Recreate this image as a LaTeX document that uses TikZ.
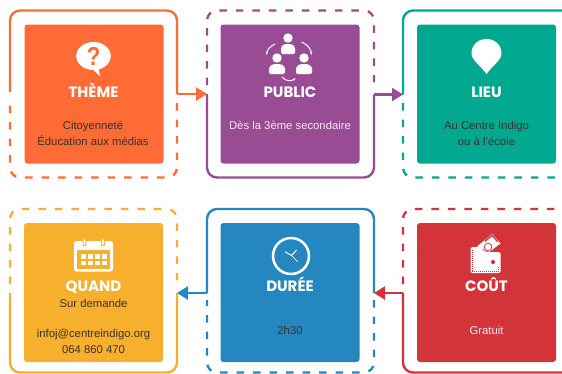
\documentclass[tikz,border=0pt]{standalone}
\usepackage{fontspec}
\setmainfont{Liberation Sans}
\newfontfamily\titlefont{Poppins}
\usetikzlibrary{arrows.meta}
\definecolor{cora}{HTML}{FF6B35}
\definecolor{cpur}{HTML}{984C94}
\definecolor{ctea}{HTML}{00A88F}
\definecolor{cyel}{HTML}{F6B02D}
\definecolor{cblu}{HTML}{2487BF}
\definecolor{cred}{HTML}{D23439}
\definecolor{dtxt}{HTML}{3B302C}
\definecolor{ltxt}{HTML}{F6E8EE}
\tikzset{
 panel/.style={minimum width=139pt,minimum height=139pt,inner sep=0pt,rounded corners=3pt,fill=#1},
 sol/.style={draw=#1,line width=2.4pt,rounded corners=10pt},
 dsh/.style={draw=#1,line width=2.3pt,rounded corners=10pt,dash pattern=on 7.5pt off 9pt},
 conn/.style={draw=#1,line width=2.4pt,-{Triangle[length=11pt,width=13pt]}},
 ttl/.style={text=white,font=\titlefont\fontsize{15}{15}\selectfont\bfseries,inner sep=0pt,text height=10.6pt,text depth=0pt},
 body/.style={align=center,inner sep=0pt,font=\fontsize{11.3}{15.4}\selectfont},
 ico/.style={fill=white,draw=none},
 thinarc/.style={draw=white,line width=1pt},
}
\begin{document}
\begin{tikzpicture}[x=1pt,y=-1pt]
\useasboundingbox[fill=white] (0,0) rectangle (562,373);
% panels
\node[panel=cora] (theme) at (94,94) {};
\node[panel=cpur] (public) at (290,94) {};
\node[panel=ctea] (lieu) at (486.5,94) {};
\node[panel=cyel] (quand) at (93.5,292.5) {};
\node[panel=cblu] (duree) at (290,292.5) {};
\node[panel=cred] (cout) at (486.5,292.5) {};
% frame anchor points
\coordinate (a1) at (177,94); \coordinate (a2) at (207,94);
\coordinate (b1) at (374,94.5); \coordinate (b2) at (403,94.5);
\coordinate (c1) at (207,293); \coordinate (c2) at (177,293);
\coordinate (d1) at (403,293); \coordinate (d2) at (374,293);
% frame theme
\draw[sol=cora] (10,92) -- (10,10.5) -- (177,10.5) -- (a1);
\draw[dsh=cora] (177,103) -- (177,177.5) -- (10,177.5) -- (10,101);
\draw[conn=cora] (a1) -- (a2);
% frame public
\draw[dsh=cpur] (207,85) -- (207,10.5) -- (374,10.5) -- (374,88);
\draw[sol=cpur] (a2) -- (207,177.5) -- (374,177.5) -- (b1);
\draw[conn=cpur] (b1) -- (b2);
% frame lieu
\draw[sol=ctea] (b2) -- (403,10.5) -- (575,10.5);
\draw[dsh=ctea] (403,103) -- (403,177.5) -- (575,177.5);
% frame quand
\draw[dsh=cyel] (10,284) -- (10,209) -- (177,209) -- (177,284);
\draw[sol=cyel] (10,293) -- (10,372.5) -- (177,372.5) -- (c2);
\draw[conn=cblu] (c1) -- (c2);
% frame duree
\draw[sol=cblu] (c1) -- (207,209) -- (374,209) -- (d2);
\draw[dsh=cblu] (374,300) -- (374,372.5) -- (207,372.5) -- (207,300);
\draw[conn=cred] (d1) -- (d2);
% frame cout
\draw[dsh=cred] (403,284) -- (403,209) -- (575,209);
\draw[sol=cred] (d1) -- (403,372.5) -- (575,372.5);
% titles
\node[ttl] (t1) at (93.5,91.7) {THÈME};
\node[ttl] (t2) at (290,91.7) {PUBLIC};
\node[ttl] (t3) at (486.5,91.7) {LIEU};
\node[ttl] (t4) at (93.5,286) {QUAND};
\node[ttl] (t5) at (290,286) {DURÉE};
\node[ttl] (t6) at (486.5,286) {COÛT};
% bodies
\node[body,text=dtxt] (b1t) at (93,133.5) {Citoyenneté\\Éducation aux médias};
\node[body,text=ltxt] (b2t) at (290,125.5) {Dès la 3ème secondaire};
\node[body,text=dtxt] (b3t) at (486.5,133.5) {Au Centre Indigo\\ou à l'école};
\node[body,text=dtxt] (b4a) at (93.5,303) {Sur demande};
\node[body,text=dtxt] (b4b) at (93.5,341.5) {infoj@centreindigo.org\\064 860 470};
\node[body,text=dtxt] (b5t) at (290,330) {2h30};
\node[body,text=ltxt] (b6t) at (486.5,330) {Gratuit};
% icon: bubble
\fill[ico] (93.5,56) ellipse (17.3 and 14);
\fill[ico] (90,67) -- (100,76) -- (98,65) -- cycle;
\node[text=cora,inner sep=0pt,xscale=.85,font=\bfseries\fontsize{26}{26}\selectfont] (q) at (93.5,56.5) {?};
% icon: people
\foreach \cx/\cy/\hw in {288/38/7,277/58/8,304/58/8}{
 \fill[ico] (\cx,\cy) circle (4.7);
 \fill[ico,rounded corners=1.5pt] (\cx-\hw,\cy+16) -- (\cx-\hw,\cy+9) -- (\cx-4,\cy+6) -- (\cx+4,\cy+6) -- (\cx+\hw,\cy+9) -- (\cx+\hw,\cy+16) -- cycle;
}
\draw[thinarc,-{Latex[length=3pt]}] (275,44) .. controls (270,46.5) and (267,50) .. (266.7,55.5);
\draw[thinarc,-{Latex[length=3pt]}] (301.5,42) .. controls (307,44) and (311,49) .. (311.5,55.5);
\draw[thinarc,-{Latex[length=3pt]}] (282,77) .. controls (286,81.5) and (291,81.5) .. (296,78);
% icon: pin
\fill[ico] (486.5,74) .. controls (480,65) and (471.5,60) .. (471.5,53.5) .. controls (471.5,45) and (478,39) .. (486.5,39) .. controls (495,39) and (501.5,45) .. (501.5,53.5) .. controls (501.5,60) and (493,65) .. (486.5,74) -- cycle;
% icon: calendar
\fill[ico,rounded corners=2.5pt] (74,241) rectangle (113,271.5);
\fill[cyel] (77,250) rectangle (110,268.5);
\foreach \i in {0,1,2,3}{\foreach \j in {0,1}{
 \fill[white] (80.5+\i*7.0,254+\j*6.6) rectangle +(5.3,4.6);}}
\foreach \i in {84.5,103}{\fill[cyel,rounded corners=1pt] (\i-1.9,238.5) rectangle (\i+1.9,246);
 \fill[white,rounded corners=.8pt] (\i-.9,239.2) rectangle (\i+.9,245);}
% icon: clock
\draw[white,line width=2.5pt] (291,256) circle (18);
\draw[white,line width=1pt] (285,251.7) -- (291.5,255.5) -- (296.7,250);
\draw[white,line width=.5pt] (291.5,255.5) -- (298,262);
% icon: wallet
\fill[ico] (477,246.5) -- (492,234) -- (500.5,243.5) -- (489,252) -- cycle;
\fill[cred] (484.5,240.5) -- (492,234.5) -- (498,241.5) -- (487,250) -- cycle;
\fill[ico] (480.5,246) -- (492,236.5) -- (497.5,243) -- (486,251.5) -- cycle;
\draw[cred,line width=.8pt] (488,247) circle (3.8);
\fill[ico,rounded corners=1.5pt] (470.5,247) -- (480,247) -- (485,252) -- (500.5,252) -- (500.5,273) -- (470.5,273) -- cycle;
\draw[cred,line width=.4pt,dash pattern=on 1pt off 1pt] (472.5,250) -- (472.5,271) -- (498.5,271) -- (498.5,266);
\fill[cred] (493,262) circle (2.1);
\end{tikzpicture}
\end{document}
